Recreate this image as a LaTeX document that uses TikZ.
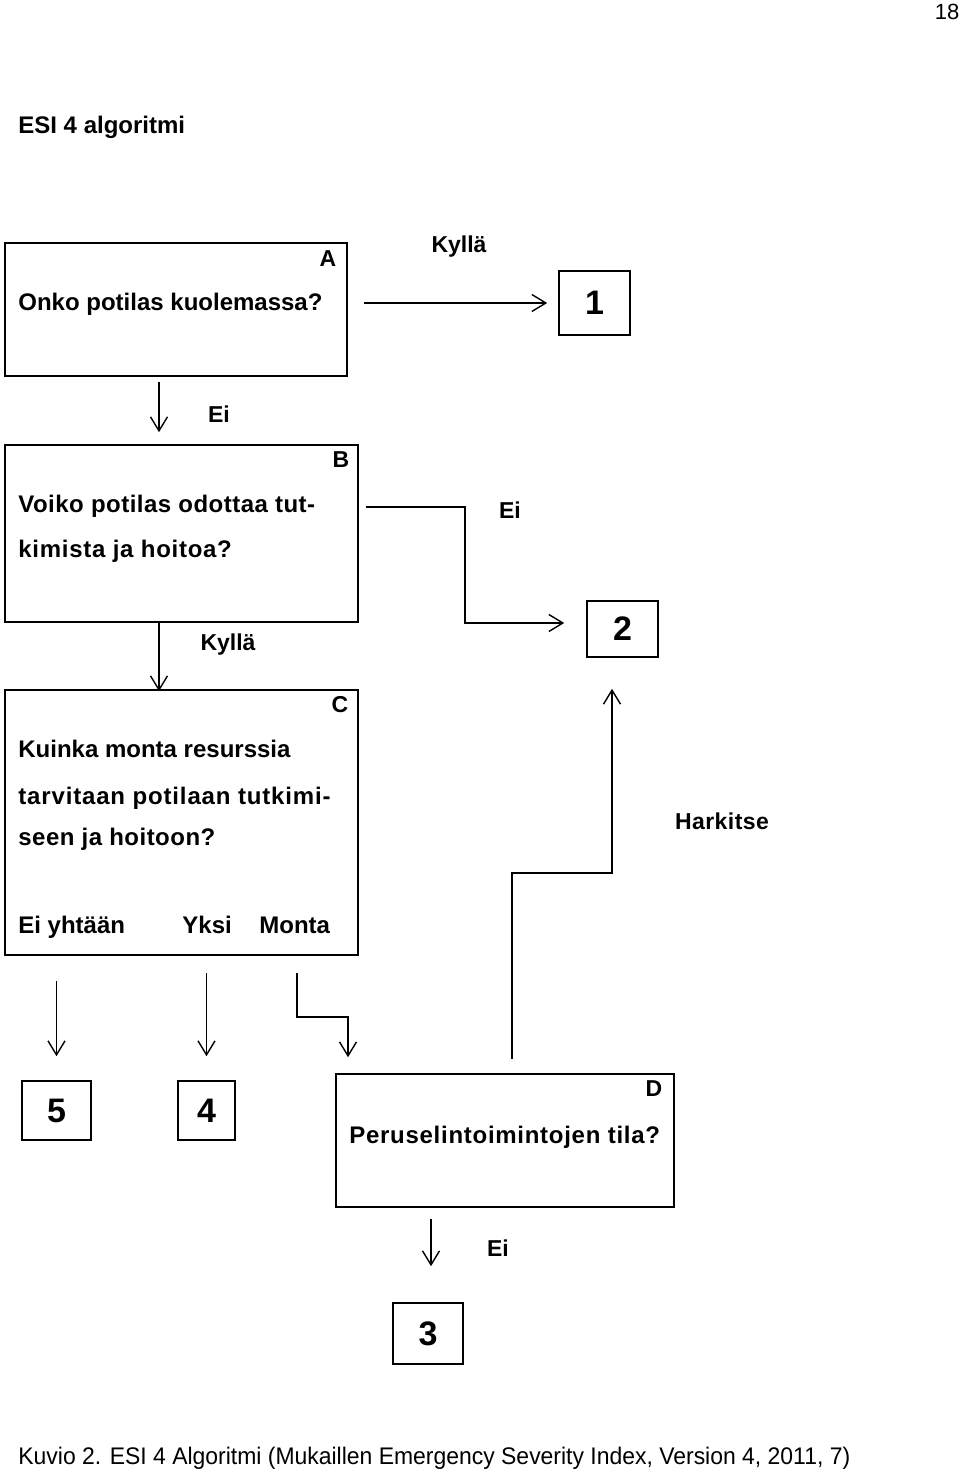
\documentclass[tikz,border=0pt]{standalone}
\usepackage{fontspec}
\setmainfont{Liberation Sans}
\usetikzlibrary{arrows.meta}
\newcommand{\lsp}[1]{\addfontfeature{LetterSpace=#1}}
\begin{document}
\begin{tikzpicture}[x=0.5pt,y=-0.5pt,
  box/.style={draw, line width=0.8pt, inner sep=0pt},
  arr/.style={line width=0.7pt, -{Straight Barb[length=7pt,width=8.5pt,line width=0.7pt]}},
  txt/.style={anchor=base west, inner sep=0pt, font=\fontsize{12}{14}\selectfont\bfseries},
  lbl/.style={inner sep=0pt, font=\fontsize{11.5}{14}\selectfont\bfseries},
  num/.style={font=\fontsize{17}{20}\selectfont\bfseries}]
\useasboundingbox (0,0) rectangle (960,1475);
\fill[white] (0,0) rectangle (960,1475);
% page number and title
\node[inner sep=0pt, font=\fontsize{11}{13}\selectfont] (pg) at (947,12) {18};
\node[txt] (title) at (18,134) {ESI 4 algoritmi};
% boxes
\node[box, minimum width=171pt, minimum height=66.5pt] (A) at (176,309.5) {};
\node[box, num, minimum width=35.5pt, minimum height=32pt] (n1) at (594.5,303) {1};
\node[box, minimum width=176.5pt, minimum height=88.5pt] (B) at (181.5,533.5) {};
\node[box, num, minimum width=35.5pt, minimum height=28pt] (n2) at (622.5,629) {2};
\node[box, minimum width=176.5pt, minimum height=132.5pt] (C) at (181.5,822.5) {};
\node[box, num, minimum width=34.5pt, minimum height=29.5pt] (n5) at (56.5,1110.5) {5};
\node[box, num, minimum width=28.5pt, minimum height=29.5pt] (n4) at (206.5,1110.5) {4};
\node[box, minimum width=169pt, minimum height=66.5pt] (D) at (505,1140.5) {};
\node[box, num, minimum width=35pt, minimum height=30.5pt] (n3) at (428,1333.5) {3};
% box texts
\node[lbl] (la) at (328,259) {A};
\node[txt] (ta) at (18,311) {Onko potilas kuolemassa?};
\node[lbl] (lb) at (341,460) {B};
\node[txt] (tb1) at (18,513) {\lsp{2}Voiko potilas odottaa tut-};
\node[txt] (tb2) at (18,557) {\lsp{3}kimista ja hoitoa?};
\node[lbl] (lc) at (340,705) {C};
\node[txt] (tc1) at (18,757) {Kuinka monta resurssia};
\node[txt] (tc2) at (18,804) {\lsp{3.5}tarvitaan potilaan tutkimi-};
\node[txt] (tc3) at (18,845) {\lsp{2}seen ja hoitoon?};
\node[txt] (tc4) at (18,933) {Ei yhtään};
\node[txt] (tc5) at (182,933) {Yksi};
\node[txt] (tc6) at (259,933) {Monta};
\node[lbl] (ld) at (654,1089) {D};
\node[txt] (td) at (349,1143) {\lsp{3}Peruselintoimintojen tila?};
% connector labels
\node[lbl] (k1) at (459,247) {Kyllä};
\node[lbl] (e1) at (219,414) {Ei};
\node[lbl] (e2) at (510,510) {Ei};
\node[lbl] (k2) at (228,645) {Kyllä};
\node[lbl] (hk) at (722,821) {\lsp{2}Harkitse};
\node[lbl] (e3) at (498,1248) {Ei};
% connectors
\draw[arr, shorten <=8pt, shorten >=5.5pt] (A.east |- n1.west) -- (n1.west);
\draw[arr] ([shift={(-8.5pt,-2.5pt)}]A.south) -- ([shift={(-11.25pt,6pt)}]B.north);
\draw[arr] ([shift={(3.5pt,13.25pt)}]B.east) -| (465,623) -- ([shift={(-11pt,3pt)}]n2.west);
\draw[arr] ([xshift=-11.25pt]B.south) -- ([shift={(-11.25pt,-1pt)}]C.north);
\draw[arr, shorten <=12.5pt, shorten >=12pt] (C.south -| n5.north) -- (n5.north);
\draw[arr, shorten <=8.5pt, shorten >=12pt] (C.south -| n4.north) -- (n4.north);
\draw[arr] ([shift={(57.75pt,-8.5pt)}]C.south) |- (348,1017) -- ([shift={(-78.5pt,8pt)}]D.north);
\draw[arr] ([shift={(3.5pt,7pt)}]D.north) |- (612,873) -- ([shift={(-5.25pt,-15.5pt)}]n2.south);
\draw[arr] ([shift={(-37pt,-5.5pt)}]D.south) -- ([shift={(1.5pt,18pt)}]n3.north);
% caption
\node[anchor=west, inner sep=0pt, font=\fontsize{12}{14}\selectfont] (cap) at (18,1458) {\scalebox{0.956}[1]{Kuvio 2. ESI 4 Algoritmi (Mukaillen Emergency Severity Index, Version 4, 2011, 7)}};
\end{tikzpicture}
\end{document}
